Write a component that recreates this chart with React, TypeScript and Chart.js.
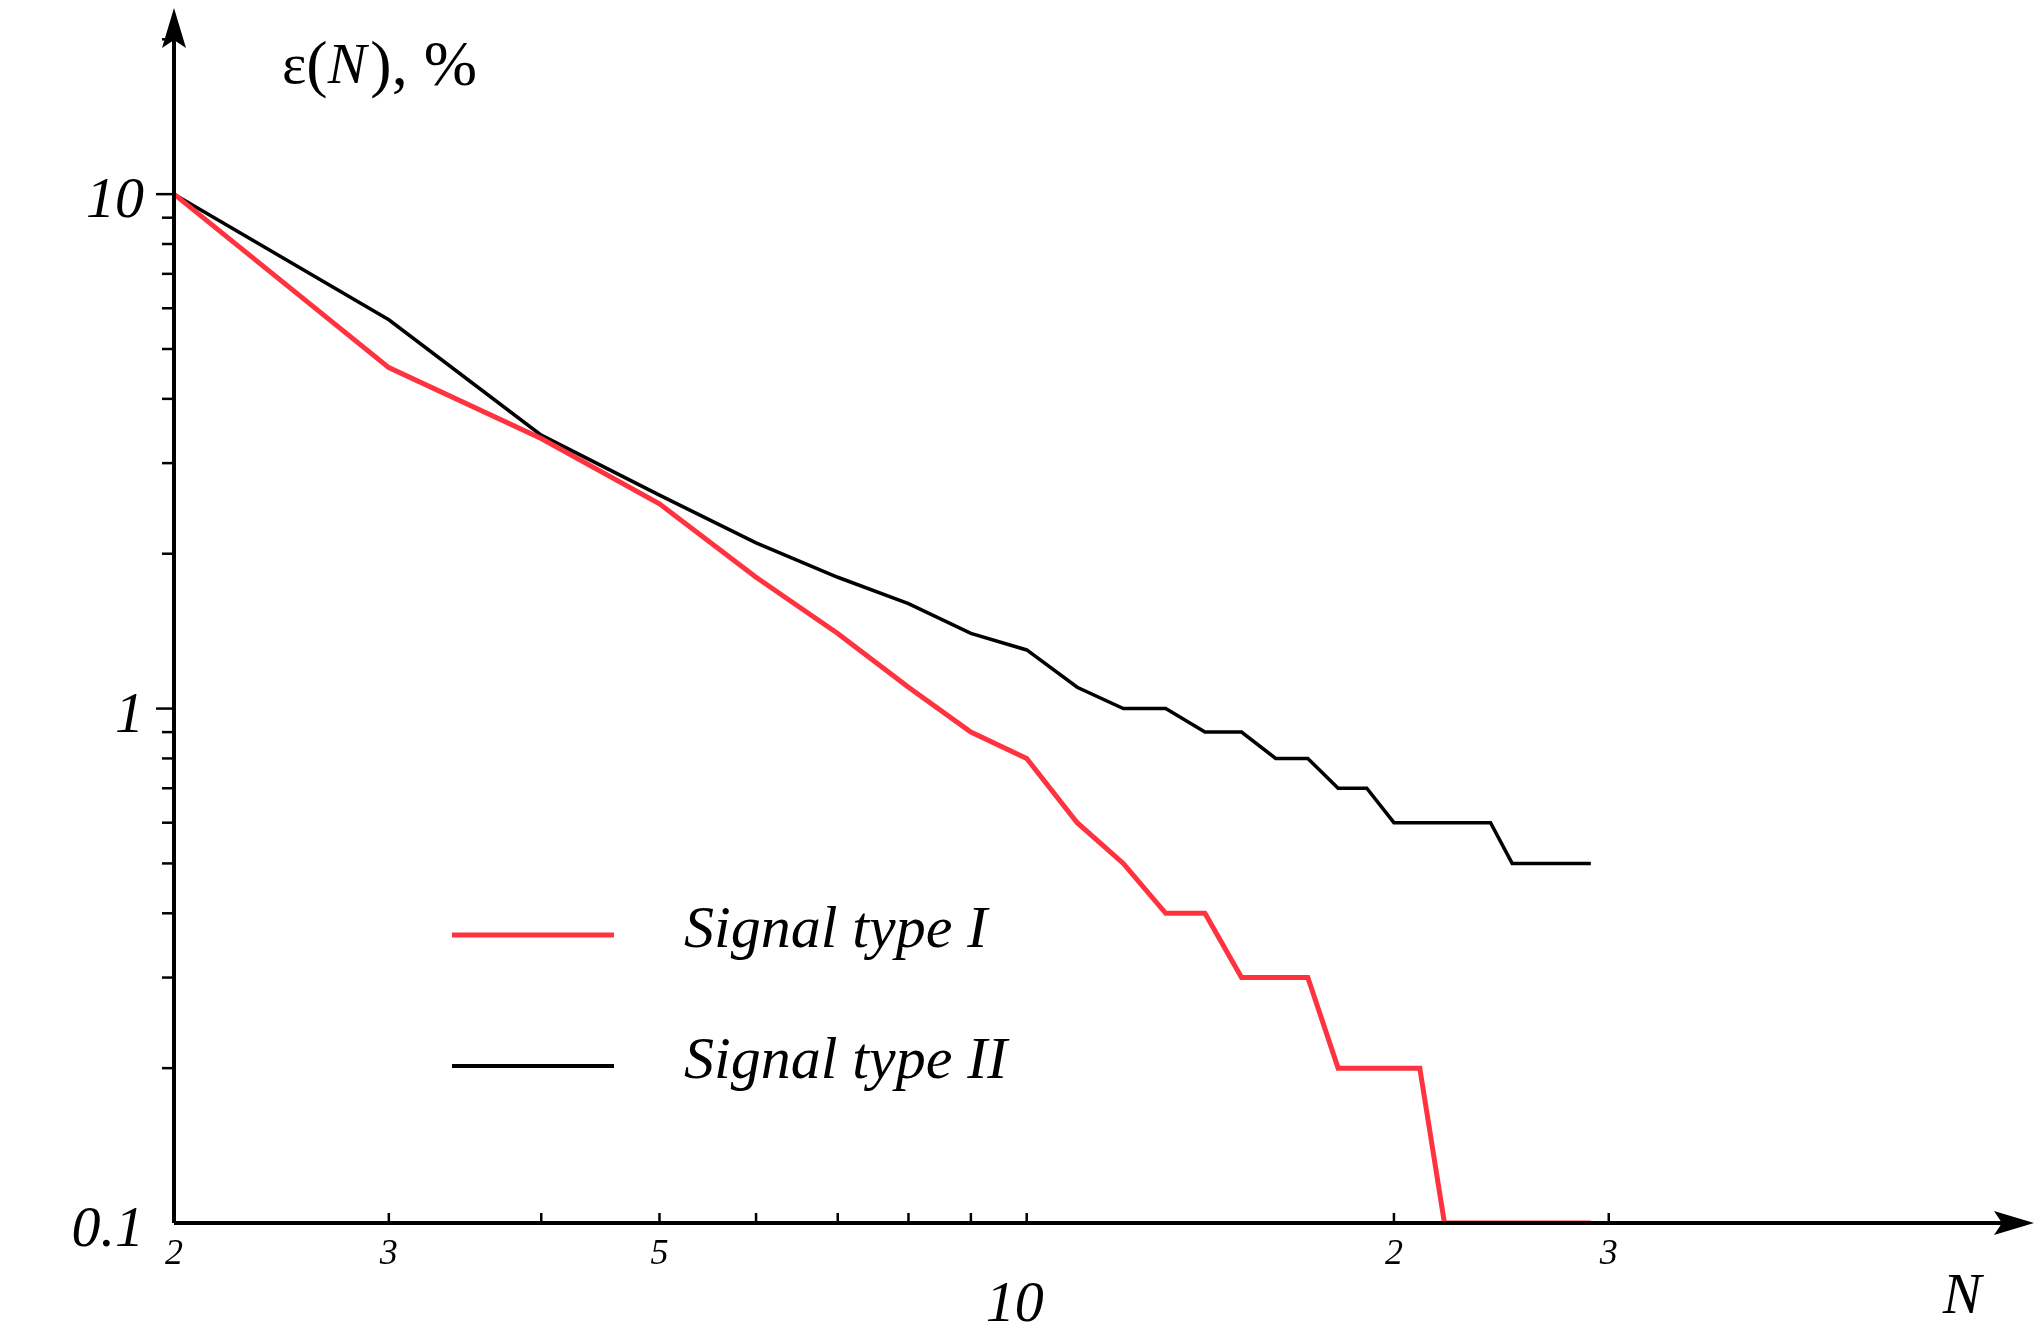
import React, { useEffect, useRef } from "react";
import { Chart, registerables } from "chart.js";
Chart.register(...registerables);

const nValues = [2,3,4,5,6,7,8,9,10,11,12,13,14,15,16,17,18,19,20,21,22,23,24,25,26,27,28,29];
const signalTypeI = [10,4.6,3.35,2.5,1.8,1.4,1.1,0.9,0.8,0.6,0.5,0.4,0.4,0.3,0.3,0.3,0.2,0.2,0.2,0.2,0.1,0.1,0.1,0.1,0.1,0.1,0.1,0.1];
const signalTypeII = [10,5.7,3.4,2.6,2.1,1.8,1.6,1.4,1.3,1.1,1.0,1.0,0.9,0.9,0.8,0.8,0.7,0.7,0.6,0.6,0.6,0.6,0.6,0.5,0.5,0.5,0.5,0.5];
const xTickValues = [2,3,4,5,6,7,8,9,10,20,30];
const xTickLabels: Record<number,string> = { 2: "2", 3: "3", 5: "5", 20: "2", 30: "3" };
const yTickValues = [0.2,0.3,0.4,0.5,0.6,0.7,0.8,0.9,1,2,3,4,5,6,7,8,9,10,20];
const yTickLabels: Record<number,string> = { 0.1: "0.1", 1: "1", 10: "10" };
const legendLabels = ["Signal type I", "Signal type II"];

const SERIF = "'Liberation Serif', 'DejaVu Serif', serif";

const axesPlugin = {
  id: "customAxes",
  afterDraw(chart: any) {
    const ctx = chart.ctx;
    const xs = chart.scales.x, ys = chart.scales.y;
    const x0 = xs.getPixelForValue(2);
    const y0 = ys.getPixelForValue(0.1);
    ctx.save();
    ctx.strokeStyle = "#000"; ctx.fillStyle = "#000"; ctx.lineWidth = 4;
    // x axis
    ctx.beginPath(); ctx.moveTo(x0, y0); ctx.lineTo(2010, y0); ctx.stroke();
    ctx.beginPath(); ctx.moveTo(2034, y0); ctx.lineTo(1994, y0 - 12); ctx.lineTo(2002, y0); ctx.lineTo(1994, y0 + 12); ctx.closePath(); ctx.fill();
    // y axis
    ctx.beginPath(); ctx.moveTo(x0, y0); ctx.lineTo(x0, 30); ctx.stroke();
    ctx.beginPath(); ctx.moveTo(x0, 8); ctx.lineTo(x0 - 12, 48); ctx.lineTo(x0, 40); ctx.lineTo(x0 + 12, 48); ctx.closePath(); ctx.fill();
    ctx.lineWidth = 2.5;
    xTickValues.forEach(v => {
      const px = xs.getPixelForValue(v);
      ctx.beginPath(); ctx.moveTo(px, y0); ctx.lineTo(px, y0 - 10); ctx.stroke();
    });
    yTickValues.forEach(v => {
      const py = ys.getPixelForValue(v);
      const major = v === 1 || v === 10;
      ctx.beginPath(); ctx.moveTo(x0, py); ctx.lineTo(x0 - (major ? 18 : 12), py); ctx.stroke();
    });
    // x tick labels
    ctx.font = `italic 36px ${SERIF}`;
    ctx.textAlign = "center"; ctx.textBaseline = "middle";
    Object.keys(xTickLabels).forEach(k => {
      const v = Number(k);
      ctx.fillText(xTickLabels[v], xs.getPixelForValue(v), y0 + 32);
    });
    ctx.font = `italic 58px ${SERIF}`;
    ctx.fillText("10", xs.getPixelForValue(10) - 12, 1306);
    ctx.fillText("N", 1962, 1298);
    // y tick labels
    ctx.textAlign = "right";
    Object.keys(yTickLabels).forEach(k => {
      const v = Number(k);
      ctx.fillText(yTickLabels[v], x0 - 30, ys.getPixelForValue(v) + 8);
    });
    // y title
    ctx.textAlign = "left";
    let tx = 282;
    const ty = 68;
    const parts: [string, string][] = [["ε", "normal"], ["(", "normal"], ["N", "italic"], ["), %", "normal"]];
    parts.forEach(([t, st]) => {
      ctx.font = `${st} ${t === "(" || t.startsWith(")") ? 64 : 58}px ${SERIF}`;
      ctx.fillText(t, tx, ty);
      tx += ctx.measureText(t).width + (t === "N" ? 4 : 0);
    });
    // legend
    const colors = ["#ff3340", "#000000"];
    const widths = [5, 4];
    const ly = [935, 1066];
    legendLabels.forEach((lab, i) => {
      ctx.strokeStyle = colors[i]; ctx.lineWidth = widths[i];
      ctx.beginPath(); ctx.moveTo(452, ly[i]); ctx.lineTo(614, ly[i]); ctx.stroke();
      ctx.font = `italic 60px ${SERIF}`;
      ctx.fillStyle = "#000";
      ctx.fillText(lab, 684, ly[i] - 4);
    });
    ctx.restore();
  },
};

export default function App() {
  const ref = useRef<HTMLCanvasElement>(null);
  useEffect(() => {
    document.body.style.margin = "0";
    const chart = new Chart(ref.current!, {
      type: "line",
      data: {
        datasets: [
          { label: legendLabels[0], data: nValues.map((n, i) => ({ x: n, y: signalTypeI[i] })), borderColor: "#ff3340", borderWidth: 5, pointRadius: 0, tension: 0 },
          { label: legendLabels[1], data: nValues.map((n, i) => ({ x: n, y: signalTypeII[i] })), borderColor: "#000000", borderWidth: 3.5, pointRadius: 0, tension: 0 },
        ],
      },
      options: {
        responsive: false,
        animation: false,
        devicePixelRatio: 1,
        layout: { padding: { left: 174, right: 64, top: 18, bottom: 119 } },
        plugins: { legend: { display: false }, tooltip: { enabled: false } },
        scales: {
          x: { type: "logarithmic", min: 2, max: 60, display: false },
          y: { type: "logarithmic", min: 0.1, max: 22, display: false },
        },
      },
      plugins: [axesPlugin],
    });
    return () => chart.destroy();
  }, []);
  return <canvas ref={ref} width={2040} height={1342} style={{ display: "block", width: 2040, height: 1342 }} />;
}
